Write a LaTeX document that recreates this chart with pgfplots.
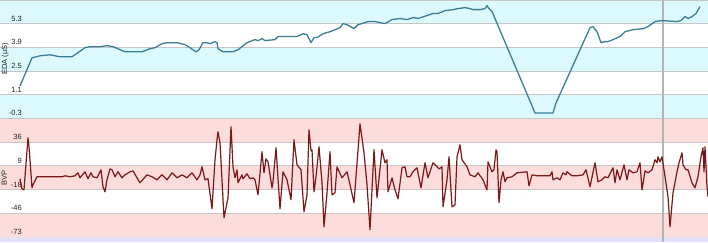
\documentclass[border=0pt]{standalone}
\usepackage{pgfplots}
\pgfplotsset{compat=1.18}
\usepackage{fontspec}
\setmainfont{Liberation Sans}
\definecolor{edaband}{HTML}{DCFAFD}
\definecolor{bvpband}{HTML}{FDDCDC}
\definecolor{gridc}{HTML}{C6C6C6}
\definecolor{edaline}{HTML}{3C7D97}
\definecolor{bvpline}{HTML}{7A1818}
\definecolor{lav}{HTML}{E4E0FA}
\definecolor{cursorc}{HTML}{B4B4B4}
\definecolor{labc}{HTML}{222222}
\pgfplotsset{
  panel/.style={
    set layers,
    scale only axis, width=708pt, xmin=0, xmax=708,
    axis line style={draw=none}, xtick=\empty, major tick length=0pt,
    /pgf/number format/assume math mode=true,
    yticklabel style={anchor=south east, xshift=23pt, yshift=1pt, inner sep=1pt,
      font=\fontsize{7.5}{8}\selectfont, text=labc},
    ylabel style={at={(axis description cs:0,0.5)}, anchor=north, inner sep=1.5pt,
      font=\fontsize{7.5}{8}\selectfont, text=labc},
    clip=false,
  }
}
\begin{document}
\begin{tikzpicture}
\begin{axis}[panel, at={(0,0)}, anchor=north west, height=118pt,
  ymin=-0.3, ymax=6.7, ytick={-0.3,1.1,2.5,3.9,5.3},
  yticklabels={-0.3,1.1,2.5,3.9,5.3}, ylabel={EDA (μS)}]
\begin{pgfonlayer}{axis background}
\fill[edaband] (axis cs:0,5.3) rectangle (axis cs:708,6.7);
\fill[edaband] (axis cs:0,2.5) rectangle (axis cs:708,3.9);
\fill[edaband] (axis cs:0,-0.3) rectangle (axis cs:708,1.1);
\draw[gridc] (axis cs:0,6.7) -- (axis cs:708,6.7);
\draw[gridc] (axis cs:0,5.3) -- (axis cs:708,5.3);
\draw[gridc] (axis cs:0,3.9) -- (axis cs:708,3.9);
\draw[gridc] (axis cs:0,2.5) -- (axis cs:708,2.5);
\draw[gridc] (axis cs:0,1.1) -- (axis cs:708,1.1);
\draw[cursorc, line width=1.2pt] (axis cs:663,-0.3) -- (axis cs:663,6.7);
\end{pgfonlayer}
\addplot[edaline, line width=1.3pt, line join=round, mark=none] coordinates {
(20,1.60) (32,3.27) (40,3.39) (50,3.45) (60,3.33) (72,3.33) (85,3.87) (90,3.93)
(100,3.93) (107,3.99) (113,3.93) (125,3.63) (133,3.63) (142,3.63) (150,3.81) (155,3.87)
(162,4.11) (167,4.17) (177,4.17) (185,4.05) (190,3.87) (196,3.63) (199,3.75) (203,4.17)
(207,4.17) (210,4.11) (215,4.23) (217,4.17) (218,3.81) (223,3.63) (233,3.63) (238,3.75)
(247,4.17) (255,4.35) (258,4.29) (262,4.41) (265,4.29) (275,4.35) (278,4.53) (287,4.53)
(297,4.53) (303,4.70) (307,4.64) (311,4.17) (314,4.47) (317,4.47) (323,4.70) (330,4.82)
(340,5.06) (343,5.30) (347,5.24) (354,5.00) (358,5.24) (362,5.30) (368,5.42) (375,5.42)
(385,5.30) (392,5.54) (400,5.60) (407,5.54) (410,5.60) (414,5.66) (418,5.60) (427,5.78)
(433,5.90) (438,5.90) (445,6.07) (453,6.13) (458,6.19) (465,6.25) (470,6.19) (473,6.13)
(480,6.13) (485,6.19) (487,6.37) (489,6.19) (492,6.02) (535,0.0) (553,0.0) (556,0.59)
(590,5.06) (593,5.12) (597,4.82) (601,4.17) (605,4.23) (608,4.23) (613,4.35) (620,4.53)
(625,4.82) (633,4.94) (643,5.00) (648,5.12) (655,5.42) (662,5.48) (677,5.42) (681,5.48)
(685,5.72) (688,5.60) (692,5.72) (696,5.90) (700,6.31)
};
\end{axis}
\begin{axis}[panel, at={(0,-118pt)}, anchor=north west, height=119pt,
  ymin=-73.2, ymax=63.3, ytick={36,8.7,-18.6,-45.9,-73.2},
  yticklabels={36,9,-18,-46,-73}, ylabel={BVP}]
\begin{pgfonlayer}{axis background}
\fill[bvpband] (axis cs:0,36) rectangle (axis cs:708,63.3);
\fill[bvpband] (axis cs:0,-18.6) rectangle (axis cs:708,8.7);
\fill[bvpband] (axis cs:0,-73.2) rectangle (axis cs:708,-45.9);
\draw[gridc] (axis cs:0,63.3) -- (axis cs:708,63.3);
\draw[gridc] (axis cs:0,36) -- (axis cs:708,36);
\draw[gridc] (axis cs:0,8.7) -- (axis cs:708,8.7);
\draw[gridc] (axis cs:0,-18.6) -- (axis cs:708,-18.6);
\draw[gridc] (axis cs:0,-45.9) -- (axis cs:708,-45.9);
\draw[gridc] (axis cs:0,-73.2) -- (axis cs:708,-73.2);
\draw[cursorc, line width=1.2pt] (axis cs:663,-73.2) -- (axis cs:663,63.3);
\end{pgfonlayer}
\addplot[bvpline, line width=1.2pt, line join=round, mark=none] coordinates {
(20,-6.4) (22,-17.9) (24,-19.1) (28,40.6) (29,30.3) (32,-16.8) (33,-13.3) (37,-4.1)
(40,-4.1) (43,-4.1) (48,-4.1) (55,-4.1) (62,-4.1) (65,-3.0) (70,-4.1) (75,-3.0)
(78,0.4) (80,-5.3) (85,1.6) (88,-6.4) (91,0.4) (93,-4.1) (97,-5.3) (101,3.9)
(103,-15.6) (105,-21.4) (107,-7.6) (110,5.0) (112,3.9) (115,-4.1) (118,1.6) (122,-5.3)
(125,-1.9) (130,1.6) (133,2.7) (137,-5.3) (140,-11.0) (147,-1.9) (152,-4.1) (157,-7.6)
(162,-1.9) (167,-7.6) (172,0.4) (177,-5.3) (182,-1.9) (187,-5.3) (192,0.4) (197,-7.6)
(200,-1.9) (202,7.3) (205,-7.6) (208,-6.4) (212,-40.8) (215,15.4) (217,38.3) (218,47.5)
(220,34.9) (224,-51.2) (228,-28.2) (231,53.2) (233,7.3) (235,-5.3) (237,3.9) (238,-11.0)
(242,-1.9) (243,-6.4) (247,-0.7) (250,-6.4) (253,-5.3) (255,-7.6) (258,-24.8) (262,24.5)
(264,0.4) (266,16.5) (268,13.1) (272,-16.8) (273,-9.9) (276,29.1) (280,-40.8) (283,1.6)
(287,-7.6) (291,-30.5) (294,38.3) (297,9.6) (301,3.9) (304,-44.3) (307,-24.8) (309,49.8)
(311,25.7) (312,26.8) (314,-21.4) (316,-4.1) (319,30.3) (322,-11.0) (324,-61.5) (327,-22.5)
(330,24.5) (332,-24.8) (335,-22.5) (337,7.3) (342,-5.3) (347,1.6) (350,-13.3) (354,-34.0)
(360,56.6) (364,23.4) (367,-13.3) (370,-64.9) (374,26.8) (377,-28.2) (382,26.8) (385,11.9)
(387,15.4) (388,-21.4) (392,-5.3) (395,-19.1) (398,-29.4) (402,6.2) (405,7.3) (407,-4.1)
(410,-4.1) (413,1.6) (417,6.2) (421,-16.8) (425,11.9) (428,-5.3) (433,11.9) (437,7.3)
(439,5.0) (442,7.3) (443,-38.6) (447,-7.6) (449,18.8) (452,-38.6) (455,-36.3) (457,18.8)
(460,32.6) (462,15.4) (467,7.3) (470,-1.9) (475,-4.1) (478,0.4) (483,-7.6) (487,-19.1)
(488,13.1) (492,1.6) (494,3.9) (496,26.8) (497,24.5) (499,-34.0) (501,-7.6) (503,1.6)
(505,-9.9) (507,-5.3) (512,-4.1) (517,0.4) (527,1.6) (529,-14.5) (532,-1.9) (537,-3.0)
(550,-3.0) (552,1.6) (553,-7.6) (557,-5.3) (560,-7.6) (563,0.4) (566,-1.9) (567,1.6)
(572,-3.0) (577,-3.0) (583,-1.9) (586,3.9) (590,-15.6) (595,11.9) (598,-9.9) (602,-7.6)
(605,-4.1) (608,-5.3) (613,6.2) (615,-11.0) (617,3.9) (620,-7.6) (624,9.6) (627,-7.6)
(629,3.9) (633,0.4) (637,1.6) (640,11.9) (642,-19.1) (645,2.7) (648,0.4) (652,3.9)
(655,15.4) (657,11.9) (658,18.8) (660,13.1) (662,18.8) (665,-4.1) (668,-27.1) (670,-61.5)
(673,-22.5) (677,1.6) (679,11.9) (682,23.4) (683,9.6) (686,3.9) (688,3.9) (692,-11.0)
(695,-16.8) (698,-4.1) (701,18.8) (703,29.1) (704,1.6) (705,30.3) (707,-15.6) (708,-27.1)
};
\end{axis}
\fill[lav] (0,-237pt) rectangle (708pt,-242pt);
\draw[cursorc, line width=1.2pt] (663pt,-237pt) -- (663pt,-242pt);
\pgfresetboundingbox
\path[use as bounding box] (0,0) rectangle (708pt,-242pt);
\end{tikzpicture}
\end{document}
